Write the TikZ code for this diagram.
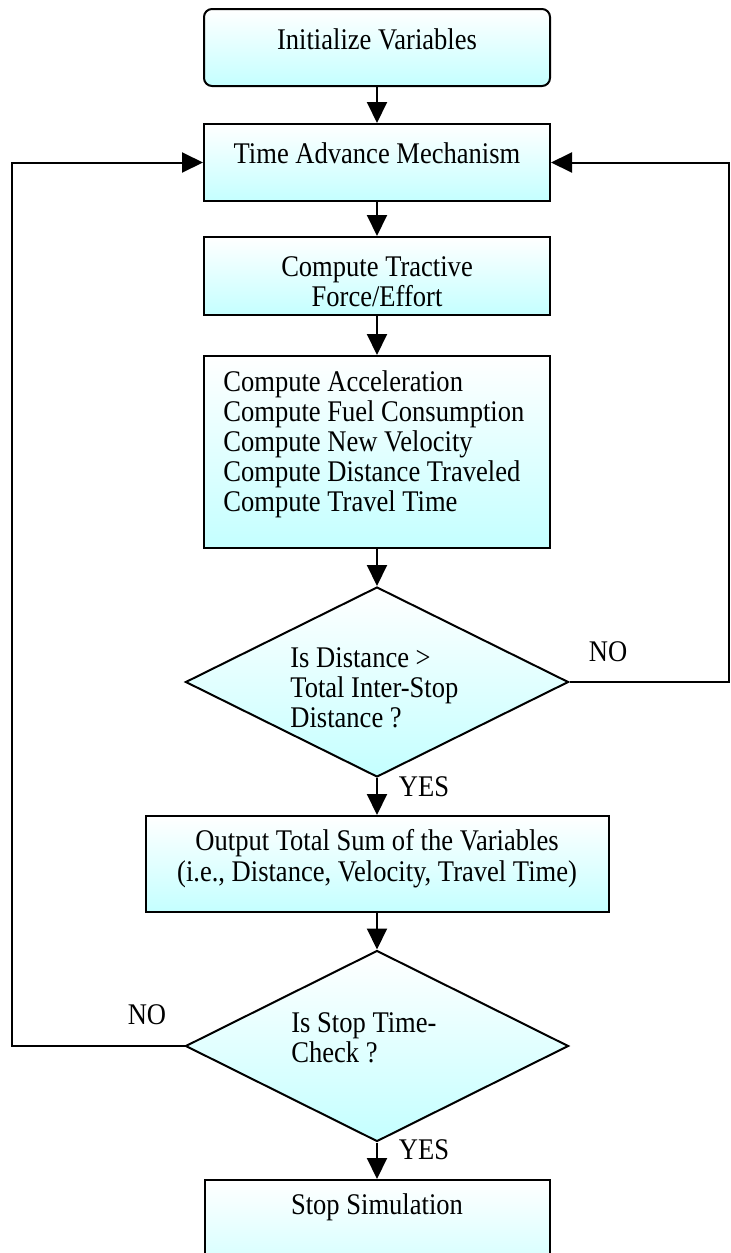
\documentclass[tikz,border=0pt]{standalone}
\usepackage{fontspec}
\setmainfont{Liberation Serif}[FakeStretch=0.885]
\usetikzlibrary{arrows.meta,shapes.geometric,calc}
\definecolor{cy}{RGB}{196,255,255}
\begin{document}
\begin{tikzpicture}[x=0.5pt,y=-0.5pt,
  font=\fontsize{15pt}{15pt}\selectfont,
  box/.style={draw=black,line width=1pt,top color=white,bottom color=cy,
    minimum width=#1*0.5pt,inner sep=0pt,rectangle},
  dec/.style={draw=black,line width=1pt,top color=white,bottom color=cy,
    diamond,inner sep=0pt,minimum width=383*0.5pt,minimum height=190*0.5pt},
  txt/.style={inner sep=0pt,align=center},
  ltxt/.style={inner sep=0pt,align=left,anchor=west},
  arr/.style={line width=1pt,-{Triangle[length=10.5pt,width=10pt]}},
  ln/.style={line width=1pt}]
\useasboundingbox (0,0) rectangle (730,1253);

% boxes
\node[box=346,minimum height=77*0.5pt,rounded corners=4pt] (n1) at (377,47.5) {};
\node[box=346,minimum height=77*0.5pt] (n2) at (377,162.5) {};
\node[box=346,minimum height=78*0.5pt] (n3) at (377,276) {};
\node[box=346,minimum height=192*0.5pt] (n4) at (377,452) {};
\node[dec] (d1) at (377,682) {};
\node[box=463,minimum height=96*0.5pt] (n5) at (377,864) {};
\node[dec,minimum height=191*0.5pt] (d2) at (377,1046) {};
\begin{scope}
\clip (0,0) rectangle (730,1253);
\node[box=345,minimum height=120*0.5pt] (n6) at (377,1240) {};
\end{scope}

% texts
\node[txt] (t1) at (377,39) {Initialize Variables};
\node[txt] (t2) at (377,153) {Time Advance Mechanism};
\node[txt] (t3) at (377,282) {Compute Tractive\\Force/Effort};
\node[ltxt] (t4) at (223,444) {Compute Acceleration\\Compute Fuel Consumption\\Compute New Velocity\\Compute Distance Traveled\\Compute Travel Time};
\node[ltxt] (td1) at (290,688) {Is Distance {>}\\Total Inter-Stop\\Distance ?};
\node[txt] (no1) at (608,652) {NO};
\node[txt] (yes1) at (424,787) {YES};
\node[txt,font=\fontsize{15pt}{15.5pt}\selectfont] (t5) at (377,858.5) {Output Total Sum of the Variables\\(i.e., Distance, Velocity, Travel Time)};
\node[ltxt] (td2) at (291,1037.5) {Is Stop Time-\\Check ?};
\node[txt] (no2) at (147,1015) {NO};
\node[txt] (yes2) at (424,1150) {YES};
\node[txt] (t6) at (377,1207) {Stop Simulation};

% connectors
\coordinate (rx) at (729,0);
\coordinate (lx) at (12,0);
\draw[arr] (n1.south) -- (n2.north);
\draw[arr] (n2.south) -- (n3.north);
\draw[arr] (n3.south) -- (n4.north);
\draw[arr] (n4.south) -- (d1.north);
\draw[arr] (d1.south) -- (n5.north);
\draw[arr] (n5.south) -- (d2.north);
\draw[arr] (d2.south) -- (n6.north);
\draw[arr] (d1.east) -| (rx |- n2.east) -- (n2.east);
\draw[arr] (d2.west) -| (lx |- n2.west) -- (n2.west);
\end{tikzpicture}
\end{document}
